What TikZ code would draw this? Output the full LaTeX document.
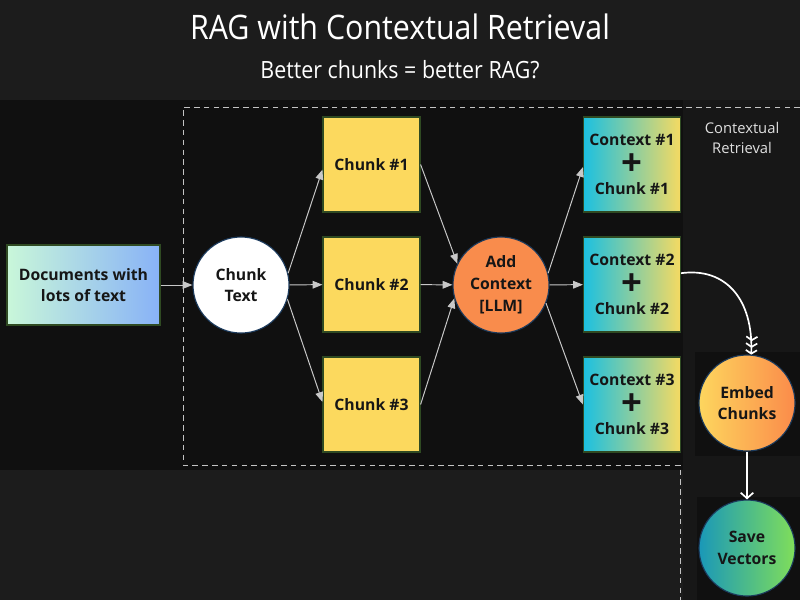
\documentclass[tikz,border=0pt]{standalone}
\usepackage{fontspec}
\setmainfont{Open Sans}
\newfontfamily\narrowfont[FakeStretch=0.9]{Open Sans}
\usetikzlibrary{arrows.meta,positioning}
\definecolor{bgtop}{HTML}{1C1C1C}
\definecolor{bgband}{HTML}{101010}
\definecolor{bgside}{HTML}{171717}
\definecolor{inkdark}{HTML}{161616}
\definecolor{chunkyel}{HTML}{FCD95E}
\definecolor{addorng}{HTML}{F98C4C}
\definecolor{ctxcyan}{HTML}{1CC0E0}
\definecolor{ctxyel}{HTML}{F5DA62}
\definecolor{docgrn}{HTML}{C9F7D9}
\definecolor{docblu}{HTML}{88B2F7}
\definecolor{embyel}{HTML}{FDD65E}
\definecolor{embor}{HTML}{FB8B4A}
\definecolor{savteal}{HTML}{1A98B8}
\definecolor{savgrn}{HTML}{80DE5A}
\definecolor{boxedge}{HTML}{2F4A22}
\definecolor{ringedge}{HTML}{1B3A5C}
\definecolor{arrgray}{HTML}{C8C8C8}
\definecolor{dashgray}{HTML}{C4C4C4}
\begin{document}
\begin{tikzpicture}[x=0.025cm, y=-0.025cm,
  every node/.style={font=\bfseries\fontsize{11.2}{15.5}\selectfont, text=inkdark},
  boxbase/.style={rectangle, draw=boxedge, line width=0.8pt, inner sep=0pt, align=center},
  chunkbox/.style={boxbase, fill=chunkyel, minimum width=2.425cm, minimum height=2.375cm},
  ctxbox/.style={boxbase, left color=ctxcyan, right color=ctxyel, minimum width=2.425cm, minimum height=2.375cm,
    font=\bfseries\fontsize{11.2}{17.5}\selectfont},
  ring/.style={circle, draw=ringedge, line width=0.8pt, minimum size=2.4cm, inner sep=0pt, align=center},
  flow/.style={draw=arrgray, line width=0.7pt, -{Triangle[length=7pt,width=5.5pt]}},
  whiteflow/.style={draw=white, line width=1.2pt},
  dashline/.style={draw=dashgray, line width=0.7pt, dash pattern=on 4pt off 3pt}]
  \useasboundingbox (0,0) rectangle (800,600);
  % background panels
  \fill[bgtop] (0,0) rectangle (800,600);
  \fill[bgband] (0,100) rectangle (683,470);
  \fill[bgside] (683,100) rectangle (800,600);
  \fill[bgband] (695,352) rectangle (800,456);
  \fill[bgband] (697,497) rectangle (800,600);
  \draw[dashline] (800,107) -- (183,107) -- (183,465) -- (680,465) -- (680,600);
  % headings
  \node[font=\narrowfont\fontsize{24}{28}\selectfont, text=white] (title) at (400,27) {RAG with Contextual Retrieval};
  \node[font=\narrowfont\fontsize{16.9}{20}\selectfont, text=white] (subtitle) at (400,70) {Better chunks = better RAG?};
  \node[font=\fontsize{10.5}{14}\selectfont, text=white!88!black, align=center] (ctxlabel) at (742,138) {Contextual\\Retrieval};
  % pipeline
  \node[boxbase, left color=docgrn, right color=docblu, minimum width=3.825cm, minimum height=2cm] (docs) at (83.5,285) {Documents with\\lots of text};
  \node[ring, fill=white] (ctext) at (241,285) {Chunk\\Text};
  \foreach \i/\y in {1/164.5,2/284.5,3/404.5} {
    \node[chunkbox] (chunk\i) at (371.5,\y) {Chunk \#\i};
    \node[ctxbox] (ctx\i) at (632,\y) {Context \#\i\\\raisebox{-3.5pt}{\fontsize{26}{17.5}\selectfont +}\\Chunk \#\i};
  }
  \node[ring, fill=addorng] (add) at (501,285) {Add\\Context\\{[LLM]}};
  \node[ring, left color=embyel, right color=embor] (embed) at (747,403) {Embed\\Chunks};
  \node[ring, left color=savteal, right color=savgrn] (save) at (747,548) {Save\\Vectors};
  % connectors
  \draw[flow] (docs) -- (ctext);
  \draw[flow] (ctext.14) -- (chunk1.186);
  \draw[flow] (ctext) -- (chunk2);
  \draw[flow] (ctext.-17) -- (chunk3.177);
  \draw[flow] (chunk1.east) -- (add.154);
  \draw[flow] (chunk2) -- (add);
  \draw[flow] (chunk3.east) -- (add.196);
  \draw[flow] (add.14) -- (ctx1.183);
  \draw[flow] (add) -- (ctx2);
  \draw[flow] (add.-22) -- (ctx3.west);
  \draw[whiteflow, -{Straight Barb[length=2.5pt,width=8pt,sep=1pt]Straight Barb[length=2.5pt,width=8pt,sep=1pt]Straight Barb[length=2.5pt,width=8pt]}]
    (ctx2.13) .. controls +(45,-6) and +(2,-55) .. (embed.85);
  \draw[whiteflow, -{Straight Barb[length=4pt,width=9pt]}] (embed) -- (save);
\end{tikzpicture}
\end{document}
